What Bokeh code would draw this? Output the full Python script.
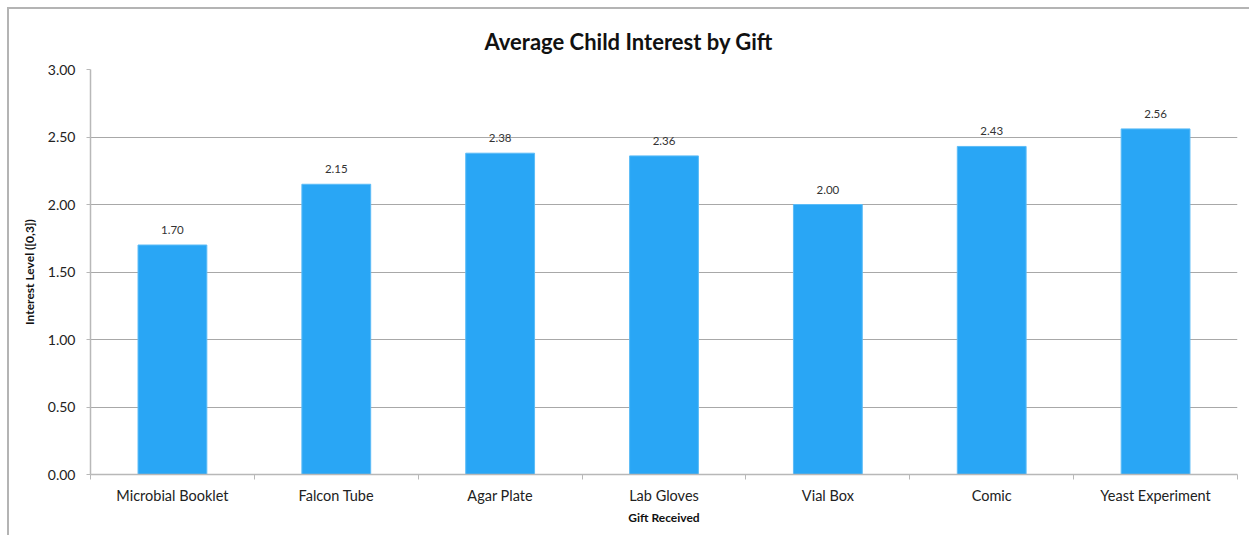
from bokeh.plotting import figure
from bokeh.models import ColumnDataSource, FixedTicker, NumeralTickFormatter, Title
from bokeh.embed import file_html
from bokeh.resources import INLINE

categories = ["Microbial Booklet", "Falcon Tube", "Agar Plate", "Lab Gloves",
              "Vial Box", "Comic", "Yeast Experiment"]
interest = [1.70, 2.15, 2.38, 2.36, 2.00, 2.43, 2.56]
y_ticks = [0.0, 0.5, 1.0, 1.5, 2.0, 2.5, 3.0]

pos = [i + 0.5 for i in range(len(categories))]
src = ColumnDataSource(dict(x=pos, top=interest, label=[f"{v:.2f}" for v in interest]))

FONT = "Lato"

p = figure(frame_width=1147, frame_height=405,
           min_border_left=81, min_border_top=60, min_border_right=12, min_border_bottom=61,
           x_range=(0, len(categories)), y_range=(0, 3),
           output_backend="svg", toolbar_location=None,
           background_fill_color="white", border_fill_color="white")
p.margin = (7, 0, 0, 7)
p.styles = {"border-top": "2px solid #b4b4b4", "border-left": "2px solid #b4b4b4"}
p.outline_line_color = None

p.title = Title(text="Average Child Interest by Gift", align="left", offset=394,
                text_font=FONT, text_font_size="22px", text_font_style="bold",
                text_color="#111111", standoff=30)

p.vbar(x="x", top="top", width=0.42, bottom=0, source=src,
       fill_color="#29a6f5", line_color="#5cbcf7", line_width=1)
p.text(x="x", y="top", text="label", source=src, text_align="center",
       text_baseline="alphabetic", y_offset=-15, text_font_size="11.5px",
       text_font=dict(value=FONT), text_color="#333333")

# x axis
xax = p.xaxis[0]
xax.ticker = FixedTicker(ticks=pos, minor_ticks=list(range(len(categories) + 1)))
xax.major_label_overrides = {p_: c for p_, c in zip(pos, categories)}
xax.major_tick_out = 0
xax.major_tick_in = 0
xax.minor_tick_out = 5
xax.minor_tick_in = 0
xax.minor_tick_line_color = "#b8b8b8"
xax.axis_line_color = "#b8b8b8"
xax.axis_line_width = 1.5
xax.major_label_text_font = FONT
xax.major_label_text_font_size = "14.5px"
xax.major_label_text_color = "#222222"
xax.major_label_standoff = 7
xax.axis_label = "Gift Received"
xax.axis_label_text_font = FONT
xax.axis_label_text_font_size = "12px"
xax.axis_label_text_font_style = "bold"
xax.axis_label_text_color = "#111111"
xax.axis_label_standoff = 3

# y axis
yax = p.yaxis[0]
yax.ticker = FixedTicker(ticks=y_ticks, minor_ticks=[])
yax.formatter = NumeralTickFormatter(format="0.00")
yax.major_tick_out = 4
yax.major_tick_in = 0
yax.major_tick_line_color = "#b8b8b8"
yax.axis_line_color = "#b8b8b8"
yax.axis_line_width = 1.5
yax.major_label_text_font = FONT
yax.major_label_text_font_size = "14px"
yax.major_label_text_color = "#222222"
yax.major_label_standoff = 11
yax.axis_label = "Interest Level ([0,3])"
yax.axis_label_text_font = FONT
yax.axis_label_text_font_size = "12px"
yax.axis_label_text_font_style = "bold"
yax.axis_label_text_color = "#111111"
yax.axis_label_standoff = 8

p.xgrid.grid_line_color = None
p.ygrid.ticker = FixedTicker(ticks=y_ticks)
p.ygrid.grid_line_color = "#a8a8a8"
p.ygrid.grid_line_width = 1

open("out.html", "w").write(file_html(p, INLINE))
